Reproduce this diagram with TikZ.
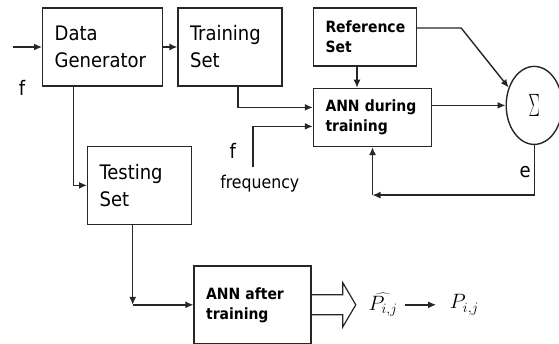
\documentclass[tikz,border=0pt]{standalone}
\usepackage{fontspec}
\setmainfont{DejaVu Sans}
\newfontfamily\condfont{DejaVu Sans Condensed}
\usetikzlibrary{shapes.geometric, arrows.meta, positioning, calc}
\newcommand{\boxfont}{\condfont\fontsize{20}{27}\selectfont}
\newcommand{\annfont}{\condfont\bfseries\fontsize{15.5}{20}\selectfont}
\newcommand{\freqfont}{\condfont\fontsize{17.5}{20}\selectfont}

\begin{document}
\begin{tikzpicture}[x=1pt, y=-1pt,
		% --- estilos ---
		block/.style = {draw, rectangle, minimum height=78pt, inner xsep=12pt, align=left, font=\boxfont},
		ann_block/.style = {block, minimum height=58pt, font=\annfont},
		sum/.style = {draw, ellipse, minimum width=56pt, minimum height=78pt, inner sep=0pt},
		lbl/.style = {inner sep=0pt, font=\boxfont},
		mathlbl/.style = {inner sep=2pt, font=\fontsize{21}{24}\selectfont},
		line width=1.4pt, draw=black!85,
		>={Latex[length=8pt, width=7pt]}
		]
		\useasboundingbox (0,0) rectangle (559,343);
		
		% --- fila superior ---
		\coordinate (in) at (13,47);
		\node [block, text width=96pt, right=29pt of in] (dg) {Data\\Generator};
		\node [block, text width=80pt, right=14pt of dg] (ts) {Training\\Set};
		\node [ann_block, text width=79pt, below right=0pt and 30pt of ts.north east] (rs) {Reference\\Set};
		\node [ann_block, text width=94pt, below right=21pt and 0pt of rs.south west] (annt) {ANN during\\training};
		\node [sum] (sum) at ($(annt.east)+(102,-12)$) {\scalebox{0.67}[1.3]{\fontsize{24}{24}\selectfont$\Sigma$}};
		
		% --- fila inferior ---
		\node [block, text width=80pt, below right=59pt and 45pt of dg.south west] (tst) {Testing\\Set};
		\node [ann_block, minimum height=78pt, text width=93pt, below right=40pt and 1pt of tst.south east] (anna) {ANN after\\training};
		
		% flecha hueca de salida
		\draw [line width=1.2pt] ($(anna.east)+(0,-10)$) -- ++(31,0) -- ++(0,-12) -- ++(13,22) coordinate (htip)
			-- ++(-13,22) -- ++(0,-12) -- ++(-31,0);
		\node [mathlbl, right=10pt of htip] (phat) {$\widehat{P_{i,j}}$};
		\node [mathlbl, right=47pt of phat] (pij) {$P_{i,j}$};
		
		% --- puntos auxiliares ---
		\coordinate (fq) at ($(annt.south west)+(-60,20)$);
		\coordinate (fb) at ($(annt.south)+(0,48)$);
		\coordinate (tc) at ([xshift=-7pt]tst.south |- anna.west);
		
		% --- etiquetas ---
		\node [lbl] (fin) at ($(in)+(9,41)$) {f};
		\node [lbl] (ffq) at ($(fq)+(-20,-16)$) {f};
		\node [inner sep=0pt, font=\freqfont] (freq) at ($(fq)+(7,17)$) {frequency};
		\node [lbl] (err) at ($(sum.south)+(-9,27)$) {e};
		
		% --- conexiones ---
		\draw [->] (in) -- (dg);
		\draw [->] (dg) -- (ts);
		\draw [->] ([xshift=-29pt]dg.south) |- (tst.west);
		\draw [->] ([xshift=8pt]ts.south) |- ([yshift=10pt]annt.west);
		\draw [->] (fq) |- ([yshift=-9pt]annt.west);
		\draw [->] ([xshift=-8pt]rs.south) -- ([xshift=-8pt]rs.south |- annt.north);
		\draw [->] ([yshift=9pt]rs.east) -- ++(44,0) -- (sum.145);
		\draw [->] (sum.west -| annt.east) -- (sum.west);
		
		% lazo de error
		\draw [->] (sum.south) |- (fb);
		\draw [->] (fb) -- (annt.south);
		
		% prueba
		\draw [->] ([xshift=-7pt]tst.south) -- (tc);
		\draw [->] (tc) -- (anna.west);
		\draw [->, line width=1.8pt, shorten <=5pt, shorten >=11pt] (phat) -- (pij);
		
	\end{tikzpicture}
\end{document}
